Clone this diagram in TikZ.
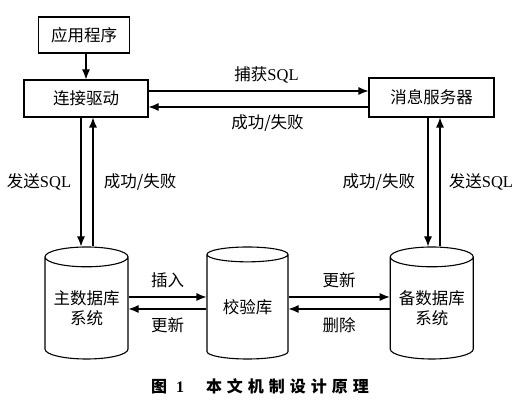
\documentclass[tikz,border=0pt]{standalone}
\usepackage{fontspec}
\setmainfont{Liberation Serif}
\newfontfamily\cjk{Noto Sans CJK SC}
\usetikzlibrary{shapes.geometric, arrows.meta}

\tikzset{
    box/.style = {draw, line width = 1.1pt, inner sep = 0pt},
    db/.style = {cylinder, shape border rotate = 90, draw, line width = 1.1pt,
        aspect = 0.3, minimum width = 83pt, minimum height = 112pt,
        inner sep = 0pt, align = center, anchor = shape center},
    flow/.style = {-{Latex[length = 10pt, width = 8pt]}, line width = 1.1pt},
    every node/.style = {font = \cjk\fontsize{16.5}{20}\selectfont},
}

\begin{document}
\begin{tikzpicture}[x = 1pt, y = 1pt]
    \useasboundingbox (0, 0) rectangle (524, 403);

    \node [box, minimum width = 91pt, minimum height = 36pt] (app) at (84, 368) {应用程序};
    \node [box, minimum width = 124pt, minimum height = 37pt] (drv) at (86, 304.5) {连接驱动};
    \node [box, minimum width = 125pt, minimum height = 39pt] (msg) at (431.5, 305.5) {消息服务器};

    \node [db] (main) at (86.5, 100) {主数据库\\系统};
    \node [db, minimum width = 81pt] (chk) at (247.5, 100) {校验库};
    \node [db] (bak) at (431.75, 100) {备数据库\\系统};

    \draw [flow] (app.south -| drv.north) -- (drv.north);

    \draw [flow] ([yshift = 7.5pt] drv.east) -- node [above = 4pt, xshift = 8pt] {捕获\textrm{SQL}} ([yshift = 7.5pt] drv.east -| msg.west);
    \draw [flow] ([yshift = -8.5pt] drv.east -| msg.west) -- node [below = 4pt, xshift = 9pt] {成功/失败} ([yshift = -8.5pt] drv.east);

    \draw [flow] ([xshift = -5pt] drv.south) -- node [left = 6pt] {发送\textrm{SQL}} ([xshift = -5pt] drv.south |- main.north);
    \draw [flow] ([xshift = 7pt] drv.south |- main.north) -- node [right = 7pt] {成功/失败} ([xshift = 7pt] drv.south);

    \draw [flow] ([xshift = -3.5pt] msg.south) -- node [left = 9pt] {成功/失败} ([xshift = -3.5pt] msg.south |- bak.north);
    \draw [flow] ([xshift = 8.5pt] msg.south |- bak.north) -- node [right = 5pt] {发送\textrm{SQL}} ([xshift = 8.5pt] msg.south);

    \draw [flow] ([yshift = 6pt] main.shape center -| main.east) -- node [above = 5pt] {插入} ([yshift = 6pt] main.shape center -| chk.west);
    \draw [flow] ([yshift = -6pt] main.shape center -| chk.west) -- node [below = 5pt] {更新} ([yshift = -6pt] main.shape center -| main.east);

    \draw [flow] ([yshift = 6pt] chk.shape center -| chk.east) -- node [above = 5pt] {更新} ([yshift = 6pt] chk.shape center -| bak.west);
    \draw [flow] ([yshift = -6pt] chk.shape center -| bak.west) -- node [below = 5pt] {删除} ([yshift = -6pt] chk.shape center -| chk.east);

    \node [font = \cjk\bfseries\fontsize{16}{20}\selectfont] (cap) at (260, 17)
        {图\hspace{9pt}\textrm{1}\hspace{22pt}本\hspace{5pt}文\hspace{5pt}机\hspace{5pt}制\hspace{5pt}设\hspace{5pt}计\hspace{5pt}原\hspace{5pt}理};
\end{tikzpicture}
\end{document}
